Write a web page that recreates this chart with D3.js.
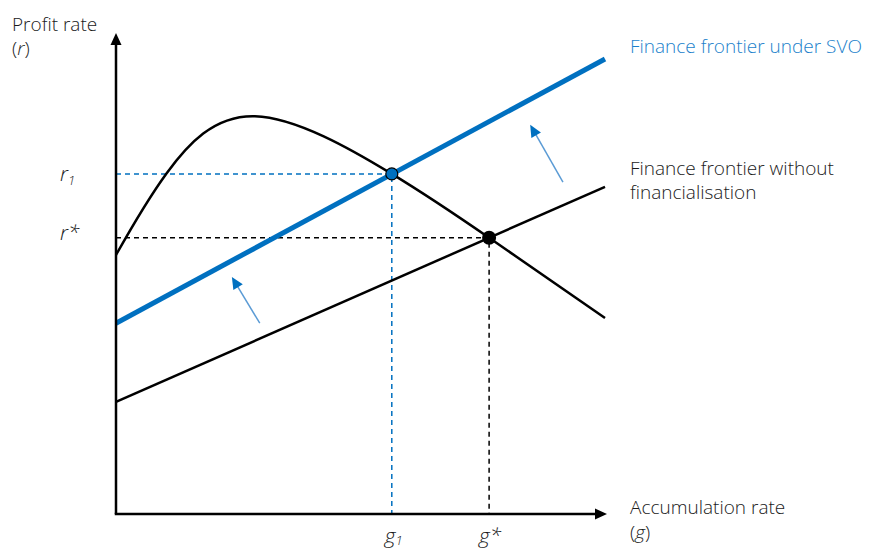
<!DOCTYPE html>
<html>
<head>
<meta charset="utf-8">
<script src="https://cdn.jsdelivr.net/npm/d3@7"></script>
<style>
  html, body { margin: 0; padding: 0; background: #fff; }
  svg { display: block; font-family: "Open Sans", "Noto Sans", sans-serif; }
</style>
</head>
<body>
<svg id="chart" width="883" height="550"></svg>
<script>
// ---- data (abstract units: g on x, r on y) ----
const gDomain = [0, 10];
const rDomain = [0, 10];

// hump-shaped profit/accumulation curve (key points)
const curveG = [0, 1.04, 2.84, 5.64, 7.63, 10];
const curveR = [5.43, 7.15, 8.34, 7.13, 5.79, 4.11];

// finance frontiers (straight lines, endpoints)
const frontierG = [0, 10];
const frontierBaseR = [2.35, 6.86];   // without financialisation
const frontierSvoR = [4.00, 9.54];    // under SVO

// equilibria
const gStar = 7.63, rStar = 5.79;
const g1 = 5.64, r1 = 7.13;

// shift arrows [fromG, fromR, toG, toR]
const shiftArrows = [
  [2.94, 4.00, 2.37, 4.97],
  [9.14, 6.96, 8.47, 8.16]
];

const axisLabelY = ["Profit rate", "(r)"];
const axisLabelX = ["Accumulation rate", "(g)"];
const svoLabel = "Finance frontier under SVO";
const baseLabel = ["Finance frontier without", "financialisation"];

// ---- drawing ----
const svg = d3.select("#chart");
const x = d3.scaleLinear().domain(gDomain).range([116, 605]);
const y = d3.scaleLinear().domain(rDomain).range([514, 37]);

const BLUE = "#0070c0";
const BLUE_TXT = "#1a7fcb";
const BLUE_LIGHT = "#5b9bd5";
const TXT = "#1a1a1a";
const FS = 19;

function arrowHead(x0, y0, x1, y1, len, halfW, color) {
  const dx = x1 - x0, dy = y1 - y0, L = Math.hypot(dx, dy);
  const ux = dx / L, uy = dy / L;
  const bx = x1 - ux * len, by = y1 - uy * len;
  const px = -uy, py = ux;
  svg.append("path")
    .attr("d", `M${x1},${y1}L${bx + px * halfW},${by + py * halfW}L${bx - px * halfW},${by - py * halfW}Z`)
    .attr("fill", color);
}

// dashed guides
svg.append("path")
  .attr("d", `M${x(0)},${y(r1)}H${x(g1)}V${y(0)}`)
  .attr("fill", "none").attr("stroke", BLUE).attr("stroke-width", 1.5)
  .attr("stroke-dasharray", "5,4");
svg.append("path")
  .attr("d", `M${x(0)},${y(rStar)}H${x(gStar)}V${y(0)}`)
  .attr("fill", "none").attr("stroke", "#000").attr("stroke-width", 1.5)
  .attr("stroke-dasharray", "5,4");

// hump curve
const curvePts = curveG.map((g, i) => [g, curveR[i]]);
svg.append("path")
  .datum(curvePts)
  .attr("d", d3.line().x(d => x(d[0])).y(d => y(d[1])).curve(d3.curveNatural))
  .attr("fill", "none").attr("stroke", "#000").attr("stroke-width", 2.5);

// frontier without financialisation
svg.append("path")
  .datum(frontierG.map((g, i) => [g, frontierBaseR[i]]))
  .attr("d", d3.line().x(d => x(d[0])).y(d => y(d[1])))
  .attr("fill", "none").attr("stroke", "#000").attr("stroke-width", 2.5);

// frontier under SVO
svg.append("path")
  .datum(frontierG.map((g, i) => [g, frontierSvoR[i]]))
  .attr("d", d3.line().x(d => x(d[0])).y(d => y(d[1])))
  .attr("fill", "none").attr("stroke", BLUE).attr("stroke-width", 5);

// shift arrows
shiftArrows.forEach(a => {
  const X0 = x(a[0]), Y0 = y(a[1]), X1 = x(a[2]), Y1 = y(a[3]);
  const dx = X1 - X0, dy = Y1 - Y0, L = Math.hypot(dx, dy);
  svg.append("line")
    .attr("x1", X0).attr("y1", Y0)
    .attr("x2", X1 - dx / L * 8).attr("y2", Y1 - dy / L * 8)
    .attr("stroke", BLUE_LIGHT).attr("stroke-width", 1.5);
  arrowHead(X0, Y0, X1, Y1, 12, 5.5, BLUE);
});

// axes
svg.append("line").attr("x1", x(0)).attr("y1", y(0)).attr("x2", x(0)).attr("y2", 44)
  .attr("stroke", "#000").attr("stroke-width", 2.5);
arrowHead(x(0), y(0), x(0), 33, 12, 5.5, "#000");
svg.append("line").attr("x1", x(0) - 1.25).attr("y1", y(0)).attr("x2", 596).attr("y2", y(0))
  .attr("stroke", "#000").attr("stroke-width", 2.5);
arrowHead(x(0), y(0), 607, y(0), 12, 5.5, "#000");

// equilibrium points
svg.append("circle").attr("cx", x(g1)).attr("cy", y(r1)).attr("r", 6)
  .attr("fill", BLUE).attr("stroke", "#000").attr("stroke-width", 1.2);
svg.append("circle").attr("cx", x(gStar)).attr("cy", y(rStar)).attr("r", 7)
  .attr("fill", "#000");

// text
const txt = (xx, yy, s, opts = {}) => {
  const t = svg.append("text").attr("x", xx).attr("y", yy)
    .attr("font-size", opts.size || FS)
    .attr("font-weight", 300)
    .attr("fill", opts.fill || TXT);
  if (opts.italic) t.attr("font-style", "italic");
  if (s) t.text(s);
  return t;
};

// y-axis label
txt(12, 31, axisLabelY[0]);
{
  const t = txt(12, 55, "");
  t.append("tspan").text("(");
  t.append("tspan").attr("font-style", "italic").text("r");
  t.append("tspan").text(")");
}
// x-axis label
txt(630, 514, axisLabelX[0]);
{
  const t = txt(630, 539, "");
  t.append("tspan").text("(");
  t.append("tspan").attr("font-style", "italic").text("g");
  t.append("tspan").text(")");
}

// r labels
{
  const t = txt(60, y(r1) + 7, "", { size: 21, italic: true });
  t.append("tspan").text("r");
  t.append("tspan").attr("font-size", 13).attr("dy", 4).text("1");
}
txt(60, y(rStar) + 2, "r*", { size: 21, italic: true });

// g labels
{
  const t = txt(x(g1) - 7, 543, "", { size: 21, italic: true });
  t.append("tspan").text("g");
  t.append("tspan").attr("font-size", 13).attr("dy", 2).text("1");
}
txt(x(gStar) - 10, 543, "g*", { size: 21, italic: true });

// series labels
txt(630, 53, svoLabel, { fill: BLUE_TXT });
txt(630, 175, baseLabel[0]);
txt(630, 199, baseLabel[1]);
</script>
</body>
</html>
